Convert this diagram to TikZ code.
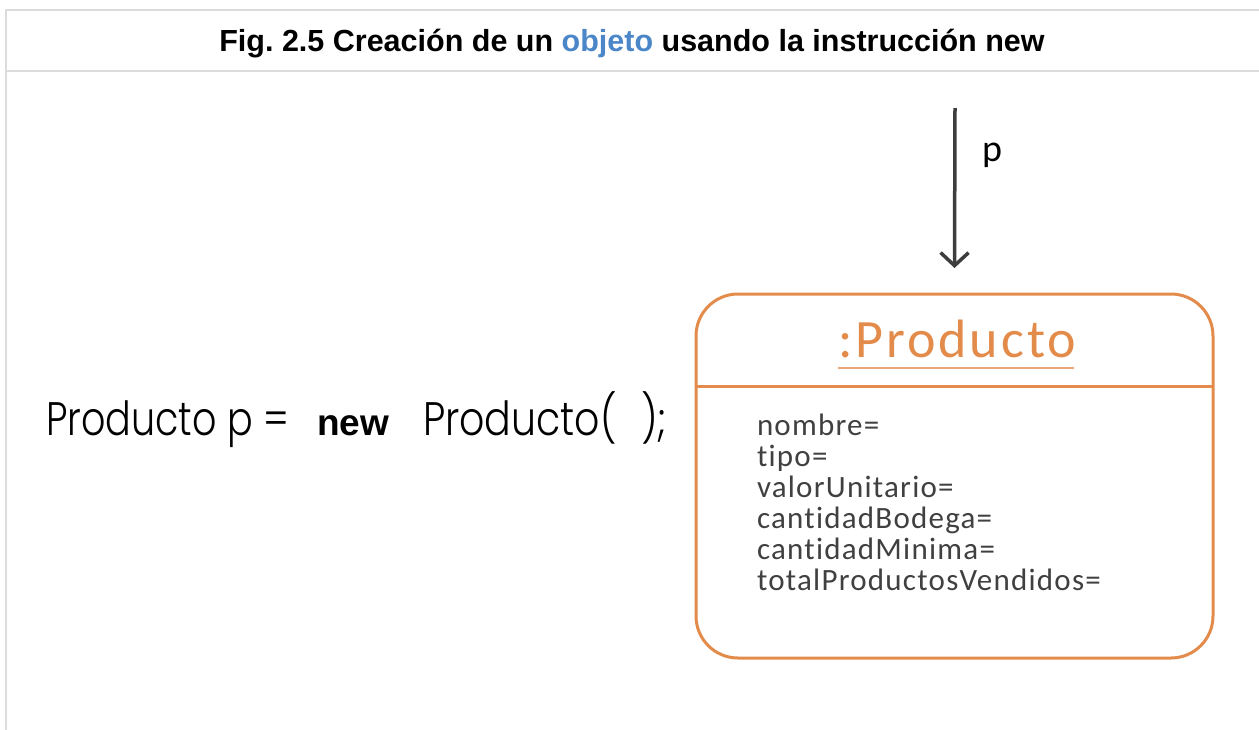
\documentclass[tikz,border=0pt]{standalone}
\usepackage{fontspec}
\setmainfont{Liberation Sans}
\newfontfamily\calfont[Ligatures=NoCommon]{Carlito}
\newfontfamily\calspaced[Ligatures=NoCommon,LetterSpace=4]{Carlito}
\newfontfamily\calwide[Ligatures=NoCommon,LetterSpace=5.5]{Carlito}
\newfontfamily\handfont{Poppins Light}
\usetikzlibrary{arrows.meta}
\definecolor{framegray}{HTML}{DCDCDC}
\definecolor{titleblue}{HTML}{4A86C8}
\definecolor{boxorange}{HTML}{E38B4A}
\definecolor{ulorange}{HTML}{E9A572}
\definecolor{arrowgray}{HTML}{3D3D3D}
\definecolor{attrgray}{HTML}{404040}
\newcommand{\handtxt}[2][0.84]{\scalebox{#1}[1]{#2}}
\tikzset{
  txt/.style={inner sep=0pt, outer sep=0pt},
  titlefont/.style={font=\fontsize{30.5pt}{36pt}\selectfont\bfseries\frenchspacing},
  handtext/.style={txt, anchor=base west, font=\handfont\fontsize{47pt}{50pt}\selectfont},
  newtext/.style={txt, anchor=base west, font=\fontsize{37pt}{40pt}\selectfont\bfseries},
  attr/.style={txt, anchor=base west, text=attrgray, font=\calspaced\fontsize{31pt}{31pt}\selectfont},
  objbox/.style={draw=boxorange, line width=3pt, rounded corners=42pt, inner sep=0pt, outer sep=0pt,
    minimum width=517pt, minimum height=364pt},
  framelines/.style={draw=framegray, line width=2pt},
  refarrow/.style={draw=arrowgray, line width=3.5pt, -{Straight Barb[length=13pt,width=28pt]}}
}
\begin{document}
\begin{tikzpicture}[x=1pt,y=-1pt]
\useasboundingbox (0,0) rectangle (1259,729);
\clip (0,0) rectangle (1259,729);
% frame
\draw[framelines] (6,745) -- (6,10) -- (1275,10);
\draw[framelines] (6,71) -- (1275,71);
% title
\node[txt, titlefont, anchor=base] (title) at (632,51)
  {Fig. 2.5 Creación de un \textcolor{titleblue}{objeto} usando la instrucción new};
% code line
\node[handtext] (c1) at (46,435) {\handtxt[0.81]{Producto p =}};
\node[newtext] (c2) at (317,435) {new};
\node[handtext] (c3) at (423,435) {\handtxt{Producto(}};
\node[handtext] (c4) at (641,435) {\handtxt{);}};
% object box
\node[objbox] (box) at (954.5,476) {};
\coordinate (sepy) at (0,386);
\draw[boxorange, line width=3pt] (box.west |- sepy) -- (box.east |- sepy);
\node[txt, anchor=base west, text=boxorange, font=\calwide\fontsize{54pt}{56pt}\selectfont] (hdr) at (838,357) {:Producto};
\draw[ulorange, line width=1.5pt] ([yshift=-11pt]hdr.base west) -- ([yshift=-11pt,xshift=-2pt]hdr.base east);
\foreach \t [count=\i] in {nombre=,tipo=,valorUnitario=,cantidadBodega=,cantidadMinima=,totalProductosVendidos=}
  \node[attr] (a\i) at (757,{435+31*(\i-1)}) {\t};
% reference arrow
\coordinate (ptop) at (955,108);
\draw[refarrow] (ptop) -- ([yshift=26pt]box.north);
\node[txt, anchor=base west, font=\calfont\fontsize{38pt}{40pt}\selectfont] (plabel) at (982,161) {p};
\end{tikzpicture}
\end{document}
